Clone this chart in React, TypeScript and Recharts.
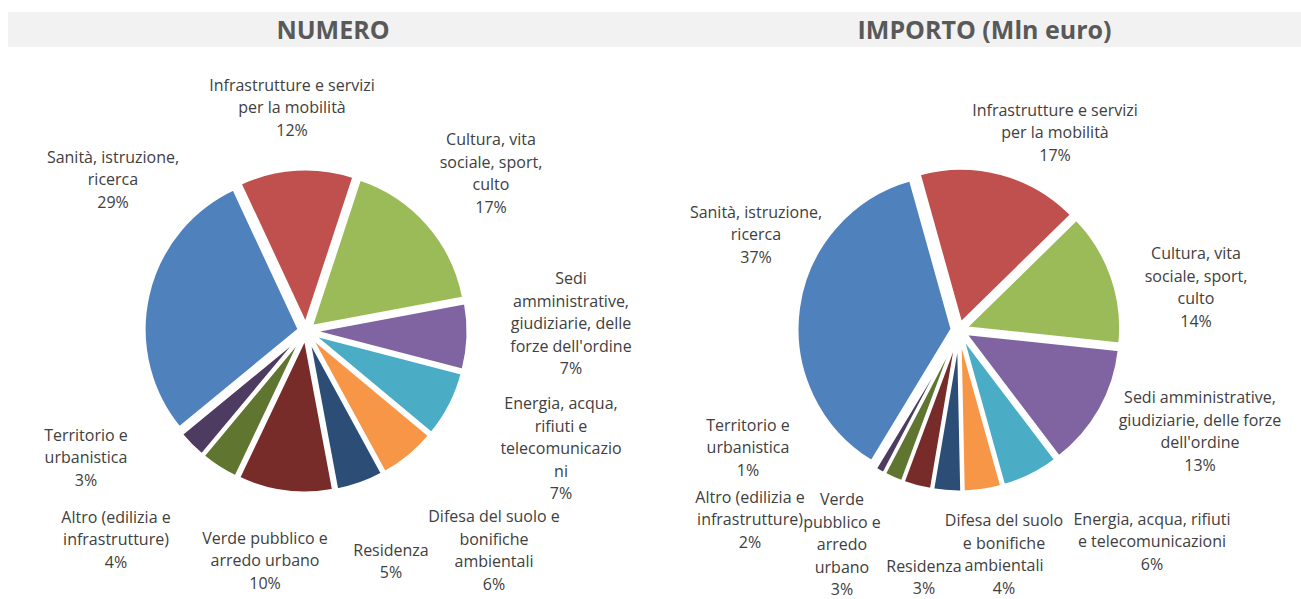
import React from 'react';
import { PieChart, Pie, Cell, Sector } from 'recharts';

const categories = [
  'Infrastrutture e servizi per la mobilità',
  'Cultura, vita sociale, sport, culto',
  "Sedi amministrative, giudiziarie, delle forze dell'ordine",
  'Energia, acqua, rifiuti e telecomunicazioni',
  'Difesa del suolo e bonifiche ambientali',
  'Residenza',
  'Verde pubblico e arredo urbano',
  'Altro (edilizia e infrastrutture)',
  'Territorio e urbanistica',
  'Sanità, istruzione, ricerca',
];
const numeroValues = [12, 17, 7, 7, 6, 5, 10, 4, 3, 29];
const importoValues = [17, 14, 13, 6, 4, 3, 3, 2, 1, 37];

const numeroLabelLines = [
  ['Infrastrutture e servizi', 'per la mobilità'],
  ['Cultura, vita', 'sociale, sport,', 'culto'],
  ['Sedi', 'amministrative,', 'giudiziarie, delle', "forze dell'ordine"],
  ['Energia, acqua,', 'rifiuti e', 'telecomunicazio', 'ni'],
  ['Difesa del suolo e', 'bonifiche', 'ambientali'],
  ['Residenza'],
  ['Verde pubblico e', 'arredo urbano'],
  ['Altro (edilizia e', 'infrastrutture)'],
  ['Territorio e', 'urbanistica'],
  ['Sanità, istruzione,', 'ricerca'],
];
const importoLabelLines = [
  ['Infrastrutture e servizi', 'per la mobilità'],
  ['Cultura, vita', 'sociale, sport,', 'culto'],
  ['Sedi amministrative,', 'giudiziarie, delle forze', "dell'ordine"],
  ['Energia, acqua, rifiuti', 'e telecomunicazioni'],
  ['Difesa del suolo', 'e bonifiche', 'ambientali'],
  ['Residenza'],
  ['Verde', 'pubblico e', 'arredo', 'urbano'],
  ['Altro (edilizia e', 'infrastrutture)'],
  ['Territorio e', 'urbanistica'],
  ['Sanità, istruzione,', 'ricerca'],
];

const colors = ['#C0504D', '#9BBB59', '#8064A2', '#4BACC6', '#F79646', '#2C4D75', '#772C2A', '#5F7530', '#4D3B62', '#4F81BD'];

// label block centres relative to pie centre (layout only)
const numeroLabelOffsets = [
  [-14, -224], [185, -158], [265, -8], [255, 117], [188, 219], [85, 230], [-41, 229], [-190, 208], [-220, 126], [-193, -152],
];
const importoLabelOffsets = [
  [96, -198], [237, -43], [241, 101], [193, 211], [45, 224], [-35, 247], [-117, 214], [-209, 189], [-211, 117], [-203, -96],
];

const numeroData = categories.map((name, i) => ({ name, value: numeroValues[i] }));
const importoData = categories.map((name, i) => ({ name, value: importoValues[i] }));

const RAD = Math.PI / 180;
const EXPLODE = 7;
const FONT = '"Open Sans", sans-serif';

const explodedShape = (props: any) => {
  const { cx, cy, midAngle } = props;
  return (
    <Sector
      {...props}
      cx={cx + EXPLODE * Math.cos(-midAngle * RAD)}
      cy={cy + EXPLODE * Math.sin(-midAngle * RAD)}
    />
  );
};

const makeLabel = (lines: string[][], offsets: number[][]) => (props: any) => {
  const { cx, cy, index, value } = props;
  const [dx, dy] = offsets[index];
  const all = [...lines[index], `${value}%`];
  const lh = 22.5;
  const top = cy + dy - ((all.length - 1) * lh) / 2;
  return (
    <text
      x={cx + dx}
      y={top}
      textAnchor="middle"
      dominantBaseline="central"
      fill="#404040"
      fontSize={16}
      fontFamily={FONT}
    >
      {all.map((t, i) => (
        <tspan key={i} x={cx + dx} y={top + i * lh}>
          {t}
        </tspan>
      ))}
    </text>
  );
};

const titleStyle: React.CSSProperties = {
  position: 'absolute',
  top: 12,
  height: 35,
  background: '#F2F2F2',
  color: '#595959',
  fontFamily: FONT,
  fontWeight: 700,
  fontSize: 25,
  lineHeight: '35px',
  textAlign: 'center',
};

export default function App() {
  return (
    <div style={{ position: 'absolute', left: 0, top: 0, width: 1301, height: 599, background: '#fff', overflow: 'hidden' }}>
      <div style={{ ...titleStyle, left: 8, width: 642 }}>
        <span style={{ position: 'relative', left: 4 }}>NUMERO</span>
      </div>
      <div style={{ ...titleStyle, left: 650, width: 651 }}>
        <span style={{ position: 'relative', left: 9 }}>IMPORTO (Mln euro)</span>
      </div>
      <div style={{ position: 'absolute', left: 0, top: 0 }}>
        <PieChart width={1301} height={599} margin={{ top: 0, right: 0, bottom: 0, left: 0 }}>
          <Pie
            data={numeroData}
            dataKey="value"
            nameKey="name"
            cx={306}
            cy={331}
            outerRadius={155}
            startAngle={115}
            endAngle={-245}
            shape={explodedShape}
            label={makeLabel(numeroLabelLines, numeroLabelOffsets)}
            labelLine={false}
            isAnimationActive={false}
          >
            {numeroData.map((d, i) => (
              <Cell key={d.name} fill={colors[i]} stroke="#FFFFFF" strokeWidth={3} />
            ))}
          </Pie>
          <Pie
            data={importoData}
            dataKey="value"
            nameKey="name"
            cx={959}
            cy={330}
            outerRadius={155}
            startAngle={105.6}
            endAngle={-254.4}
            shape={explodedShape}
            label={makeLabel(importoLabelLines, importoLabelOffsets)}
            labelLine={false}
            isAnimationActive={false}
          >
            {importoData.map((d, i) => (
              <Cell key={d.name} fill={colors[i]} stroke="#FFFFFF" strokeWidth={3} />
            ))}
          </Pie>
        </PieChart>
      </div>
    </div>
  );
}
